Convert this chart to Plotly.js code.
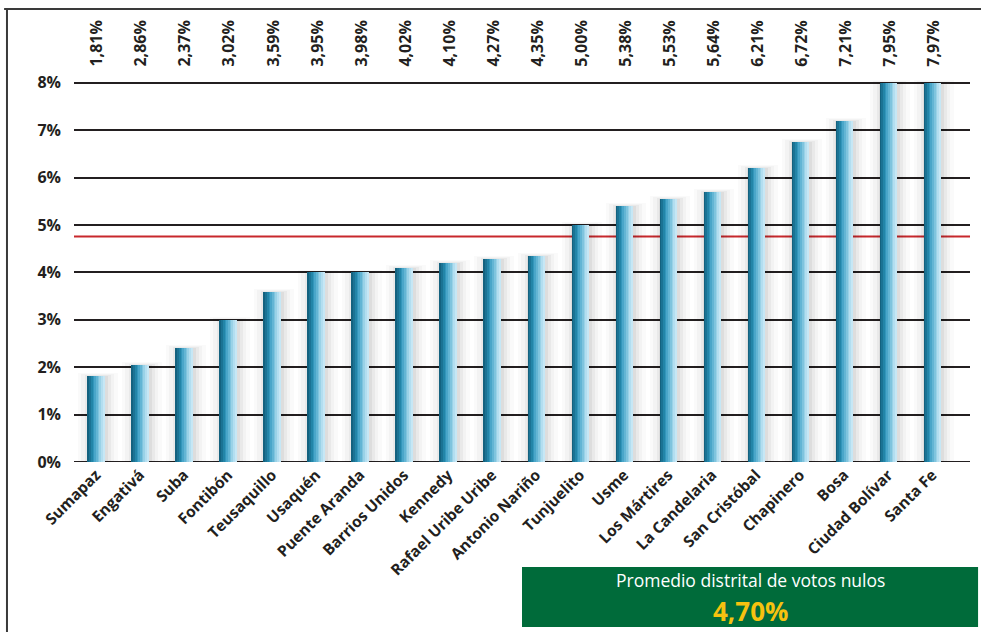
<!DOCTYPE html>
<html>
<head>
<meta charset="utf-8">
<script src="https://cdn.plot.ly/plotly-3.0.1.min.js"></script>
<style>html,body{margin:0;padding:0;background:#fff;}#chart{width:981px;height:632px;}</style>
</head>
<body>
<div id="chart"></div>
<script>
const localidades = ["Sumapaz","Engativá","Suba","Fontibón","Teusaquillo","Usaquén","Puente Aranda","Barrios Unidos","Kennedy","Rafael Uribe Uribe","Antonio Nariño","Tunjuelito","Usme","Los Mártires","La Candelaria","San Cristóbal","Chapinero","Bosa","Ciudad Bolívar","Santa Fe"];
const barValues = [1.81, 2.05, 2.40, 3.00, 3.59, 4.00, 4.00, 4.09, 4.20, 4.28, 4.35, 5.00, 5.40, 5.55, 5.70, 6.20, 6.75, 7.19, 8.00, 8.00];
const valueLabels = ["1,81%","2,86%","2,37%","3,02%","3,59%","3,95%","3,98%","4,02%","4,10%","4,27%","4,35%","5,00%","5,38%","5,53%","5,64%","6,21%","6,72%","7,21%","7,95%","7,97%"];
const yTicks = [0,1,2,3,4,5,6,7,8];
const yTickLabels = ["0%","1%","2%","3%","4%","5%","6%","7%","8%"];
const promedioLinea = 4.76;
const promedioTitulo = "Promedio distrital de votos nulos";
const promedioTexto = "4,70%";

const FONT = "'Open Sans', 'Liberation Sans', sans-serif";
const idx = localidades.map((_, i) => i);

const traces = [];
// soft shadows around the bars
[[0.9, 'rgba(0,0,0,0.02)', 0.06], [0.75, 'rgba(0,0,0,0.028)', 0.04], [0.6, 'rgba(0,0,0,0.038)', 0.02], [0.48, 'rgba(0,0,0,0.05)', 0.0]].forEach(([w, c, dy]) => {
  traces.push({type:'bar', x: idx, y: barValues.map(v => v + dy), width: w, offset: -w/2 + 0.04,
    marker:{color:c, line:{width:0}}, hoverinfo:'skip', showlegend:false});
});
// cylinder-like bars made of vertical stripes
const stripeColors = ["#14627f","#1b7394","#2385a8","#3396bb","#4aa6c9","#63b5d4","#7fc4de","#9ad2e7","#b3def0","#c6e7f5"];
const bw = 0.39;
const sw = bw / stripeColors.length;
stripeColors.forEach((c, k) => {
  traces.push({type:'bar', x: idx, y: barValues, width: sw + 0.002, offset: -bw/2 + k*sw,
    marker:{color:c, line:{width:0}}, hoverinfo:'skip', showlegend:false});
});

const annotations = valueLabels.map((t, i) => ({
  x: i, xref:'x', y: 1.03, yref:'paper', yanchor:'bottom', xanchor:'center',
  text: t, textangle: -90, showarrow:false,
  font:{family:FONT, size:16, color:'#231f20', weight:'bold'}
}));
// box texts: title centred near y=580px, value near y=611px
annotations.push({x:0.7545, xref:'paper', y:-0.309, yref:'paper', xanchor:'center', yanchor:'middle',
  text:promedioTitulo, showarrow:false, font:{family:FONT, size:17.5, color:'#ffffff'}});
annotations.push({x:0.7545, xref:'paper', y:-0.390, yref:'paper', xanchor:'center', yanchor:'middle',
  text:promedioTexto, showarrow:false, font:{family:FONT, size:26, color:'#f6c20f', weight:'bold'}});

const layout = {
  width:981, height:632,
  margin:{l:74, r:11, t:80, b:170},
  paper_bgcolor:'#ffffff', plot_bgcolor:'rgba(0,0,0,0)',
  barmode:'overlay', bargap:0,
  showlegend:false,
  xaxis:{range:[-0.5, 19.86], tickvals: idx, ticktext: localidades, tickangle:-45,
    showgrid:false, zeroline:false, showline:false, ticks:'',
    tickfont:{family:FONT, size:15.5, color:'#231f20', weight:'bold'}, fixedrange:true},
  yaxis:{range:[0, 8.06], tickvals: yTicks, ticktext: yTickLabels,
    showgrid:true, gridcolor:'#231f20', gridwidth:2, zeroline:false, showline:false, ticks:'',
    ticklabelstandoff: 12,
    tickfont:{family:FONT, size:16, color:'#231f20', weight:'bold'}, fixedrange:true},
  shapes:[
    {type:'line', xref:'paper', yref:'y', x0:0, x1:1, y0:0, y1:0, line:{color:'#231f20', width:2}, layer:'below'},
    {type:'line', xref:'paper', yref:'y', x0:0, x1:1, y0:promedioLinea, y1:promedioLinea, line:{color:'#c8282c', width:2}, layer:'below'},
    {type:'rect', xref:'paper', yref:'paper', x0:0.5, x1:1.009, y0:-0.2749, y1:-0.432, fillcolor:'#006b3a', line:{width:0}},
    {type:'line', xref:'paper', yref:'paper', x0:-0.078, x1:1.02, y0:1.186, y1:1.186, line:{color:'#3a3a3a', width:2}},
    {type:'line', xref:'paper', yref:'paper', x0:-0.0748, x1:-0.0748, y0:1.186, y1:-0.45, line:{color:'#3a3a3a', width:2}}
  ],
  annotations: annotations
};

Plotly.newPlot('chart', traces, layout, {displayModeBar:false, staticPlot:true});
</script>
</body>
</html>
